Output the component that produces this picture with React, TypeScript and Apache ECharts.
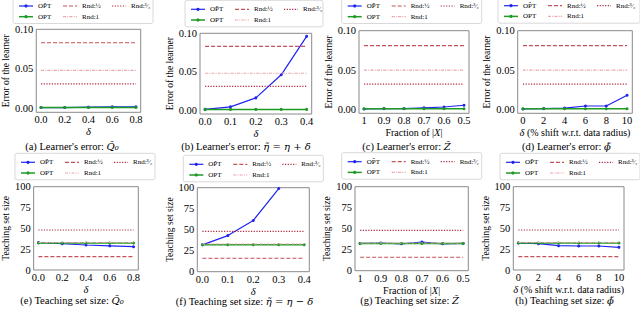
import React, { useEffect, useRef } from 'react';
import * as echarts from 'echarts';

// ---------- data ----------
const deltaQ = [0, 0.2, 0.4, 0.6, 0.8];
const deltaEta = [0, 0.1, 0.2, 0.3, 0.4];
const fractionX = [1, 0.9, 0.8, 0.7, 0.6, 0.5];
const shiftPhi = [0, 2, 4, 6, 8, 10];

const errTicks = [0, 0.05, 0.1];
const sizeTicks = [0, 25, 50, 75, 100];

// learner's error
const errQ_optHat = [0.001, 0.001, 0.0015, 0.002, 0.002];
const errQ_opt = [0.001, 0.001, 0.001, 0.001, 0.001];
const errQ_rnd = [0.083, 0.048, 0.031]; // Rnd:1/2, Rnd:1, Rnd:3/2

const errEta_optHat = [0.001, 0.0043, 0.016, 0.046, 0.096];
const errEta_opt = [0.001, 0.001, 0.001, 0.001, 0.001];
const errEta_rnd = [0.083, 0.048, 0.031];

const errZ_optHat = [0.0005, 0.001, 0.001, 0.002, 0.003, 0.0052];
const errZ_opt = [0.0008, 0.0008, 0.0008, 0.0008, 0.0008, 0.0008];
const errZ_rnd = [0.081, 0.05, 0.032];

const errPhi_optHat = [0.0005, 0.001, 0.0017, 0.0043, 0.0043, 0.018];
const errPhi_opt = [0.0008, 0.0008, 0.0008, 0.0008, 0.0008, 0.0008];
const errPhi_rnd = [0.081, 0.05, 0.032];

// teaching set size
const sizeQ_optHat = [33, 31.5, 30, 29, 28];
const sizeQ_opt = [32.5, 32.5, 32.5, 32.5, 32.5];
const sizeQ_rnd = [16, 33, 48];

const sizeEta_optHat = [32, 43, 61, 99, null];
const sizeEta_opt = [32, 32, 32, 32, 32];
const sizeEta_rnd = [16, 33, 48];

const sizeZ_optHat = [32.5, 33, 32, 34, 32, 32.5];
const sizeZ_opt = [32.5, 32.5, 32.5, 32.5, 32.5, 32.5];
const sizeZ_rnd = [16, 33, 48];

const sizePhi_optHat = [32.4, 31.6, 29.2, 28.8, 28.8, 27.2];
const sizePhi_opt = [32.4, 32.4, 32.4, 32.4, 32.4, 32.4];
const sizePhi_rnd = [16, 33, 48];

// ---------- names / styles ----------
const FONT = "'Liberation Serif', 'DejaVu Serif', serif";
const MATH = "'DejaVu Serif', serif";
const N_HAT = 'OP\u0302T';
const N_OPT = 'OPT';
const N_RH = 'Rnd:\u00BD';
const N_R1 = 'Rnd:1';
const N_R3 = 'Rnd:\u00B3\u2044\u2082';

const BLUE = '#1f24f2';
const GREEN = '#1e9a25';
const C_RH = '#c4525a';
const C_R1 = '#eaa7ae';
const C_R3 = '#b0283f';

const DASH_RH = [4, 2];
const DASH_R1 = [3, 1.2, 1, 1.2];
const DASH_R3 = [1.2, 1.5];

const fmt1 = (v: number) => v.toFixed(1);
const fmt2 = (v: number) => v.toFixed(2);
const fmtInt = (v: number) => String(Math.round(v));
const fmtFrac = (v: number) => (Math.abs(v - 1) < 1e-9 ? '1' : v.toFixed(1));

type Panel = {
  x: number[];
  optHat: (number | null)[];
  opt: number[];
  rnd: number[];
  kind: 'err' | 'size';
  xMin: number;
  xMax: number;
  inverse?: boolean;
  xFmt: (v: number) => string;
  xName: string;
  caption: string;
  grid: [number, number, number, number];
  yGap: number;
  xGap: number;
  legend: [number, number, number];
  cap: [number, number];
};

const panels: Panel[] = [
  { x: deltaQ, optHat: errQ_optHat, opt: errQ_opt, rnd: errQ_rnd, kind: 'err', xMin: -0.04, xMax: 0.84, xFmt: fmt1, xName: '{i|δ}',
    caption: "(a) Learner's error: {m|Q\u0303\u2080}", grid: [30, 29.3, 110.7, 83], yGap: 18.5, xGap: 9.5, legend: [13, 6, 140], cap: [72, 146] },
  { x: deltaEta, optHat: errEta_optHat, opt: errEta_opt, rnd: errEta_rnd, kind: 'err', xMin: -0.02, xMax: 0.42, xFmt: fmt1, xName: '{i|δ}',
    caption: "(b) Learner's error: {m|η\u0303 = η + δ}", grid: [200, 33.3, 111.7, 80.7], yGap: 20, xGap: 8.7, legend: [185, 9.3, 138], cap: [246, 146] },
  { x: fractionX, optHat: errZ_optHat, opt: errZ_opt, rnd: errZ_rnd, kind: 'err', xMin: 0.475, xMax: 1.025, inverse: true, xFmt: fmtFrac, xName: 'Fraction of |{i|X}|',
    caption: "(c) Learner's error: {m|Z\u0303}", grid: [359, 30.7, 110, 82.6], yGap: 20.5, xGap: 9, legend: [341.7, 6, 140], cap: [406.5, 146] },
  { x: shiftPhi, optHat: errPhi_optHat, opt: errPhi_opt, rnd: errPhi_rnd, kind: 'err', xMin: -0.5, xMax: 10.5, xFmt: fmtInt, xName: '{i|δ} (% shift w.r.t. data radius)',
    caption: "(d) Learner's error: {m|ϕ\u0303}", grid: [517.7, 30.7, 114.6, 82.6], yGap: 21, xGap: 8.7, legend: [498, 5.7, 142], cap: [566.5, 146] },
  { x: deltaQ, optHat: sizeQ_optHat, opt: sizeQ_opt, rnd: sizeQ_rnd, kind: 'size', xMin: -0.04, xMax: 0.84, xFmt: fmt1, xName: '{i|δ}',
    caption: "(e) Teaching set size: {m|Q\u0303\u2080}", grid: [28.3, 186.7, 110, 83.3], yGap: 18, xGap: 8.3, legend: [15, 162.3, 140], cap: [72, 300.7] },
  { x: deltaEta, optHat: sizeEta_optHat, opt: sizeEta_opt, rnd: sizeEta_rnd, kind: 'size', xMin: -0.02, xMax: 0.42, xFmt: fmt1, xName: '{i|δ}',
    caption: "(f) Teaching set size: {m|η\u0303 = η − δ}", grid: [197.3, 187.7, 112, 84], yGap: 17, xGap: 7, legend: [183.3, 164.3, 140], cap: [244.5, 301] },
  { x: fractionX, optHat: sizeZ_optHat, opt: sizeZ_opt, rnd: sizeZ_rnd, kind: 'size', xMin: 0.475, xMax: 1.025, inverse: true, xFmt: fmtFrac, xName: 'Fraction of |{i|X}|',
    caption: "(g) Teaching set size: {m|Z\u0303}", grid: [355, 186.7, 113.3, 84], yGap: 17, xGap: 7, legend: [341.7, 161.7, 140], cap: [409.5, 300] },
  { x: shiftPhi, optHat: sizePhi_optHat, opt: sizePhi_opt, rnd: sizePhi_rnd, kind: 'size', xMin: -0.5, xMax: 10.5, xFmt: fmtInt, xName: '{i|δ} (% shift w.r.t. data radius)',
    caption: "(h) Teaching set size: {m|ϕ\u0303}", grid: [513.3, 186.7, 110.7, 83.3], yGap: 17, xGap: 7.5, legend: [500, 162.3, 140], cap: [564.5, 300] },
];

// legend entries: [column, row, name, color, dash, width, marker]
const legendEntries: [number, number, string, string, number[] | null, number, boolean][] = [
  [0, 0, N_HAT, BLUE, null, 1.2, true],
  [0, 1, N_OPT, GREEN, null, 1.5, true],
  [1, 0, N_RH, C_RH, DASH_RH, 1.2, false],
  [1, 1, N_R1, C_R1, DASH_R1, 1.2, false],
  [2, 0, N_R3, C_R3, DASH_R3, 1.2, false],
];
const COL_OFF = [6, 50, 99];

function buildOption() {
  const grid: any[] = [];
  const xAxis: any[] = [];
  const yAxis: any[] = [];
  const series: any[] = [];
  const graphic: any[] = [];
  const italic = { fontStyle: 'italic', fontFamily: FONT, fontSize: 10.5, color: '#000' };

  panels.forEach((p, i) => {
    const [gl, gt, gw, gh] = p.grid;
    grid.push({ left: gl, top: gt, width: gw, height: gh, show: true, borderColor: '#8a8a8a', borderWidth: 1, backgroundColor: 'transparent' });
    xAxis.push({
      type: 'value', gridIndex: i, min: p.xMin, max: p.xMax, inverse: !!p.inverse,
      axisLine: { show: false }, axisTick: { show: false }, splitLine: { show: false },
      axisLabel: { customValues: p.x, formatter: p.xFmt, fontSize: 10.5, fontFamily: FONT, color: '#000', margin: 2 },
      name: p.xName, nameLocation: 'middle', nameGap: p.xGap,
      nameTextStyle: { fontSize: 10, fontFamily: FONT, color: '#000', rich: { i: italic } },
    });
    const isErr = p.kind === 'err';
    yAxis.push({
      type: 'value', gridIndex: i, min: isErr ? -0.005 : 0, max: isErr ? 0.1 : 100,
      axisLine: { show: false }, axisTick: { show: false }, splitLine: { show: false },
      axisLabel: { customValues: isErr ? errTicks : sizeTicks, formatter: isErr ? fmt2 : fmtInt, fontSize: 10.5, fontFamily: FONT, color: '#000', margin: 3 },
      name: isErr ? 'Error of the learner' : 'Teaching set size', nameLocation: 'middle', nameGap: p.yGap,
      nameTextStyle: { fontSize: 9.5, fontFamily: FONT, color: '#000' },
    });
    const base = { type: 'line', xAxisIndex: i, yAxisIndex: i, silent: true, clip: true };
    series.push({ ...base, name: N_HAT, data: p.x.map((v, j) => [v, p.optHat[j]]), symbol: 'circle', symbolSize: 3,
      lineStyle: { color: BLUE, width: 1.2 }, itemStyle: { color: BLUE }, z: 3 });
    series.push({ ...base, name: N_OPT, data: p.x.map((v, j) => [v, p.opt[j]]), symbol: 'circle', symbolSize: 3,
      lineStyle: { color: GREEN, width: 1.5 }, itemStyle: { color: GREEN }, z: 3 });
    const rndStyles: [string, string, number[]][] = [
      [N_RH, C_RH, DASH_RH],
      [N_R1, C_R1, DASH_R1],
      [N_R3, C_R3, DASH_R3],
    ];
    rndStyles.forEach(([name, color, dash], k) => {
      series.push({ ...base, name, data: p.x.map((v) => [v, p.rnd[k]]), symbol: 'none', showSymbol: false,
        lineStyle: { color, width: 1.2, type: dash }, itemStyle: { color }, z: 4 });
    });

    // legend drawn as a matplotlib-style box with three columns
    const [bx, row1, bw] = p.legend;
    graphic.push({ type: 'rect', z: 1, silent: true, shape: { x: bx, y: row1 - 9, width: bw, height: 26.5, r: 2 },
      style: { fill: '#ffffff', stroke: '#d9d9d9', lineWidth: 1 } });
    legendEntries.forEach(([col, row, name, color, dash, width, marker]) => {
      const x1 = bx + COL_OFF[col];
      const y = row1 + row * 10.7;
      graphic.push({ type: 'line', z: 2, silent: true, shape: { x1, y1: y, x2: x1 + 14, y2: y },
        style: { stroke: color, lineWidth: width, lineDash: dash || undefined } });
      if (marker) {
        graphic.push({ type: 'circle', z: 2, silent: true, shape: { cx: x1 + 7, cy: y, r: 1.6 }, style: { fill: color } });
      }
      graphic.push({ type: 'text', z: 2, silent: true, x: x1 + 19, y,
        style: { text: name, fontSize: 7, fontFamily: FONT, fill: '#000', align: 'left', verticalAlign: 'middle',
          textAlign: 'left', textVerticalAlign: 'middle' } });
    });

    graphic.push({ type: 'text', z: 10, silent: true, x: p.cap[0], y: p.cap[1],
      style: { text: p.caption, fontSize: 10.5, fontFamily: FONT, fill: '#000', align: 'center', verticalAlign: 'middle',
        textAlign: 'center', textVerticalAlign: 'middle',
        rich: { m: { fontStyle: 'italic', fontSize: 10, fontFamily: MATH } } } });
  });

  return { animation: false, backgroundColor: '#ffffff', grid, xAxis, yAxis, series, graphic };
}

export default function App() {
  const ref = useRef<HTMLDivElement>(null);
  useEffect(() => {
    document.body.style.margin = '0';
    const chart = echarts.init(ref.current!, null, { renderer: 'svg' });
    chart.setOption(buildOption() as any);
    return () => chart.dispose();
  }, []);
  return <div ref={ref} style={{ position: 'absolute', left: 0, top: 0, width: 640, height: 310 }} />;
}
